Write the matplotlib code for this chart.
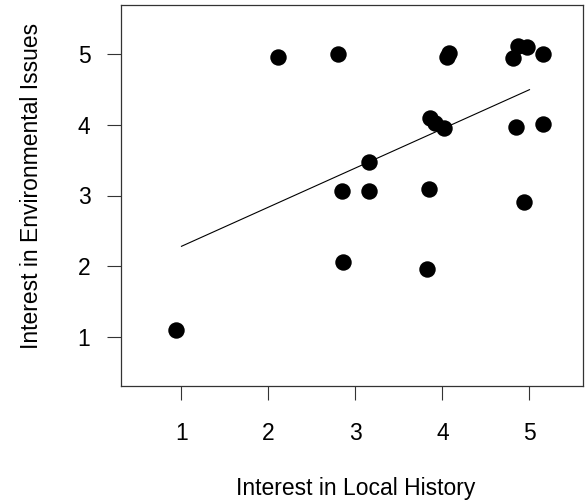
"""
Scatter of interest in local history vs environmental issues, base-R look
"""

import matplotlib
matplotlib.use("Agg")
import matplotlib.pyplot as plt
import numpy as np

# data (jittered survey answers)
local_history = [0.94, 2.11, 2.80, 4.05, 4.07, 4.81, 4.87, 4.97, 5.15,
                 3.86, 3.91, 4.02, 4.84, 5.15, 3.15, 2.84, 3.15, 3.85,
                 4.94, 2.86, 3.82]
environment = [1.10, 4.97, 5.00, 4.97, 5.02, 4.95, 5.12, 5.10, 5.01,
               4.10, 4.03, 3.96, 3.97, 4.02, 3.47, 3.06, 3.06, 3.09,
               2.91, 2.06, 1.96]

# fitted line end points as drawn
fit_x = [1.0, 5.0]
fit_y = [2.28, 4.50]

x_ticks = [1, 2, 3, 4, 5]
y_ticks = [1, 2, 3, 4, 5]

plt.rcParams['font.family'] = ['Liberation Sans', 'DejaVu Sans']

fig = plt.figure(figsize=(5.85, 5.03), dpi=100)
ax = fig.add_axes([121 / 585, 1 - 386 / 503, (583 - 121) / 585, (386 - 5) / 503])

ax.scatter(local_history, environment, s=140, c='black', marker='o',
           linewidths=0, zorder=3)
ax.plot(fit_x, fit_y, color='black', linewidth=0.8, zorder=2)

ax.set_xlim(0.305, 5.615)
ax.set_ylim(0.30, 5.70)
ax.set_xticks(x_ticks)
ax.set_yticks(y_ticks)

for side in ax.spines.values():
    side.set_color('#333333')
    side.set_linewidth(0.9)

ax.tick_params(axis='both', direction='out', length=10, width=0.8,
               color='#333333', labelsize=16.5)
ax.tick_params(axis='x', pad=16)
ax.tick_params(axis='y', pad=12)

ax.set_xlabel('Interest in Local History', fontsize=16.5)
ax.set_ylabel('Interest in Environmental Issues', fontsize=16.5)
ax.xaxis.label.set_verticalalignment('center')
ax.yaxis.label.set_verticalalignment('center')
ax.xaxis.set_label_coords((356 - 121) / 462, -(488 - 386) / 381)
ax.yaxis.set_label_coords(-(121 - 32) / 462, (386 - 186) / 381)

fig.savefig('out.png', dpi=100)
